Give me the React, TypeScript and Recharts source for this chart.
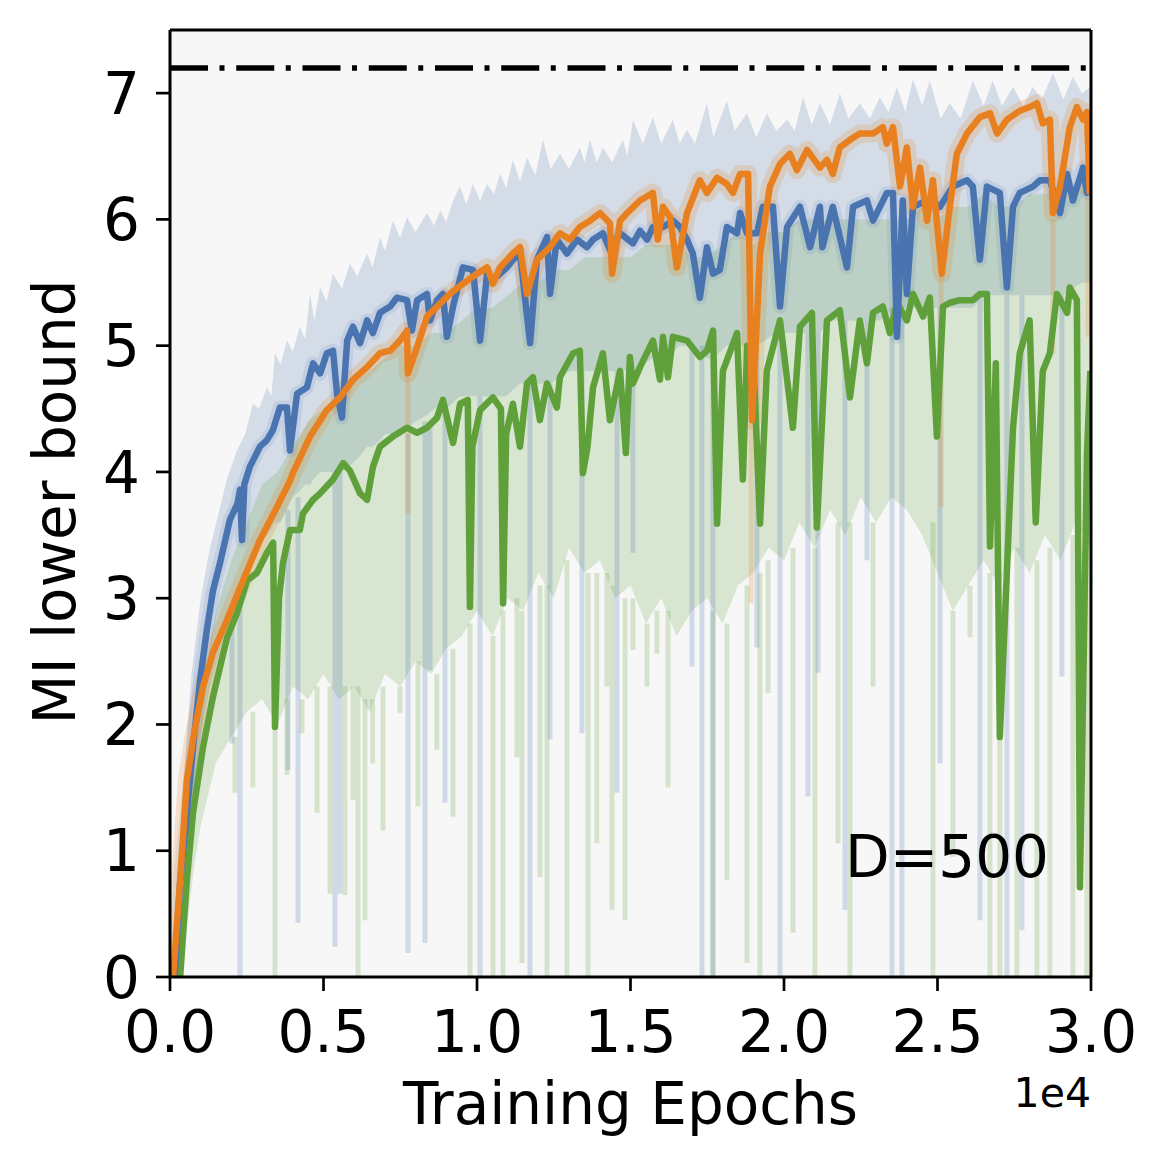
import React from 'react';
import { ComposedChart, Line, Area, XAxis, YAxis, CartesianGrid, ReferenceLine } from 'recharts';

// ---------- smoothed curves (epoch, MI) ----------
const blueEpochs = [150,330,550,750,980,1200,1400,1630,1950,2200,2280,2345,2420,2600,2930,3150,3350,3580,3810,3910,4140,4460,4660,4890,5110,5310,5440,5600,5770,5960,6190,6420,6610,6840,7170,7390,7720,7880,8050,8370,8470,8700,8890,9020,9220,9540,9870,10100,10330,10520,10980,11170,11400,11730,11950,12280,12380,12600,12930,13260,13580,13780,14100,14400,14550,14660,15080,15310,15540,15730,16060,16380,16610,16840,17030,17260,17490,17690,17910,18140,18470,18570,18790,19120,19310,19640,19870,20100,20520,20850,21170,21250,21590,22050,22250,22700,22900,23350,23550,23680,23870,24000,24200,24660,25080,25500,25960,26150,26380,26610,27030,27260,27460,27680,28110,28340,28660,28990,29220,29410,29740,29870,30000];
const blueMI = [0,0.75,1.3,1.82,2.35,2.75,3.06,3.28,3.62,3.75,3.86,3.46,3.9,4.04,4.2,4.25,4.33,4.51,4.51,4.17,4.62,4.67,4.86,4.78,4.94,4.96,4.62,4.43,5.04,5.15,5.02,5.2,5.1,5.26,5.31,5.38,5.36,5.12,5.36,5.41,5.2,5.36,5.41,5.07,5.31,5.62,5.6,5.04,5.57,5.52,5.62,5.68,5.73,5.02,5.68,5.86,5.41,5.84,5.73,5.84,5.78,5.84,5.89,5.72,5.85,5.89,5.81,5.91,5.84,5.94,5.94,5.99,5.94,5.84,5.73,5.38,5.78,5.57,5.6,5.94,5.89,6.05,5.89,5.89,6.1,6.1,5.31,5.94,6.1,5.78,6.1,5.78,6.1,5.62,6.1,6.15,5.99,6.21,6.21,5.07,6.15,5.41,6.1,6.15,6.1,6.26,6.31,6.26,5.68,6.26,6.21,5.46,6.1,6.21,6.26,6.31,6.31,6.05,6.36,6.15,6.41,6.21,6.35];

const orangeEpochs = [100,330,550,750,1075,1400,1860,2380,2930,3480,3910,4000,4560,5110,5540,5960,6420,6840,7170,7490,7720,7750,8050,8370,8700,9120,9540,10000,10330,10520,10750,11170,11400,11630,11950,12380,12700,13030,13350,13680,14010,14330,14400,14660,14890,15310,15730,15890,16060,16290,16510,16840,17260,17490,17820,18140,18340,18570,18830,18960,19220,19540,19870,20190,20420,20750,21170,21400,21590,21820,22150,22470,22900,23220,23350,23550,23780,24000,24200,24430,24660,24850,25140,25400,25630,25960,26380,26710,26940,27260,27680,28010,28240,28430,28660,28760,28990,29310,29540,29740,29870,29960];
const orangeMI = [0,0.77,1.56,1.88,2.3,2.57,2.83,3.14,3.46,3.72,3.93,3.99,4.28,4.49,4.59,4.73,4.83,4.94,4.96,5.04,5.12,4.78,4.99,5.23,5.31,5.41,5.49,5.57,5.62,5.49,5.62,5.73,5.78,5.41,5.68,5.78,5.89,5.84,5.94,5.99,6.05,5.97,5.57,5.99,6.05,6.15,6.21,5.84,6.1,6.02,5.62,6.05,6.31,6.21,6.33,6.28,6.21,6.36,6.36,4.41,5.73,6.26,6.44,6.52,6.39,6.55,6.41,6.47,6.36,6.57,6.63,6.68,6.68,6.73,6.6,6.73,6.26,6.57,6.1,6.41,5.99,6.31,5.57,6.1,6.52,6.68,6.81,6.84,6.68,6.79,6.86,6.89,6.92,6.76,6.79,6.05,6.26,6.73,6.89,6.79,6.85,6.2];

const greenEpochs = [330,550,750,1075,1400,1860,2180,2510,2830,3160,3360,3420,3550,3680,3910,4230,4330,4660,4890,5310,5640,5860,6190,6420,6610,6840,7260,7720,8050,8370,8700,8890,9220,9450,9700,9770,9850,10100,10520,10780,10850,10950,11170,11400,11630,11820,12050,12280,12600,12700,13130,13350,13450,13600,13780,14100,14330,14660,14850,14980,15080,15310,15730,15960,16060,16220,16380,16840,17260,17490,17690,17820,18010,18470,18660,18800,19000,19220,19440,19870,20290,20520,20910,21070,21400,21820,22150,22470,22700,22900,23220,23450,23680,24000,24200,24530,24750,24980,25180,25400,25730,26150,26380,26610,26710,26900,27030,27460,27680,28000,28200,28430,28660,28890,29220,29310,29540,29640,29870,29980];
const greenMI = [0,0.77,1.3,1.82,2.22,2.69,2.88,3.14,3.2,3.36,3.44,1.98,3.0,3.28,3.54,3.54,3.67,3.78,3.83,3.94,4.07,4.01,3.83,3.78,4.04,4.2,4.28,4.35,4.31,4.35,4.43,4.57,4.23,4.54,4.57,2.93,4.2,4.49,4.59,4.5,2.96,4.3,4.54,4.2,4.7,4.75,4.41,4.7,4.51,4.75,4.94,4.96,3.99,4.2,4.67,4.94,4.41,4.8,4.15,4.91,4.7,4.83,5.04,4.73,5.07,4.75,5.07,5.04,4.91,4.96,5.12,3.59,4.8,5.1,3.94,5.0,4.9,3.59,4.8,5.2,4.35,5.15,5.26,3.56,5.2,5.28,4.59,5.2,4.86,5.26,5.31,5.1,5.34,5.2,5.41,5.23,5.38,4.28,5.31,5.34,5.36,5.36,5.41,5.41,3.41,4.86,1.9,4.35,4.94,5.2,3.6,4.8,4.94,5.41,5.26,5.46,5.36,0.71,4.15,4.8];

// ---------- raw (unsmoothed) traces: dense bands ----------
const blueBandX = [150,400,700,1000,1300,1530,1850,2180,2450,2700,2900,3160,3300,3420,3600,3810,4000,4230,4400,4560,4700,4890,5100,5310,5600,5860,6100,6420,6600,6840,7000,7260,7500,7720,8000,8370,8600,8800,9000,9220,9445,9650,9870,10100,10330,10550,10750,10950,11170,11400,11630,11900,12150,12400,12700,13000,13350,13500,13680,13900,14100,14400,14750,14900,15080,15400,15730,16000,16380,16600,16840,17100,17490,17700,18140,18400,18790,19100,19440,19750,20100,20350,20620,20900,21170,21500,21820,22100,22470,22800,23120,23400,23680,23950,24200,24500,24750,25100,25400,25750,26150,26500,26800,27100,27460,27800,28100,28400,28760,29100,29410,29700,30000];
const blueBandLo = [0,0.45,1.3,1.9,2.3,2.5,2.8,3.0,3.2,3.35,3.45,3.5,3.55,3.6,3.6,3.7,3.8,3.85,3.9,3.9,3.95,4.0,4.0,4.0,4.0,4.05,4.1,4.2,4.2,4.25,4.3,4.3,4.3,4.35,4.4,4.45,4.5,4.5,4.5,4.55,4.6,4.6,4.6,4.6,4.6,4.6,4.6,4.6,4.65,4.7,4.7,4.7,4.7,4.7,4.75,4.8,4.8,4.8,4.8,4.8,4.8,4.8,4.8,4.8,4.8,4.85,4.9,4.9,4.95,5.0,5.0,5.0,4.9,4.9,5.0,5.0,5.0,5.0,5.05,5.1,5.1,5.1,5.1,5.1,5.1,5.2,5.2,5.2,5.2,5.2,5.2,5.25,5.3,5.3,5.3,5.3,5.3,5.3,5.3,5.3,5.3,5.4,5.4,5.4,5.4,5.4,5.4,5.4,5.4,5.4,5.45,5.5,5.5];
const blueBandHi = [0.3,1.4,2.4,3.0,3.4,3.62,3.94,4.17,4.3,4.54,4.5,4.67,4.6,4.94,4.85,5.04,4.95,5.15,5.05,5.41,5.2,5.46,5.35,5.57,5.45,5.65,5.55,5.73,5.62,5.86,5.75,5.99,5.85,6.02,5.9,6.05,5.95,6.07,5.98,6.15,6.26,6.12,6.28,6.15,6.28,6.2,6.36,6.25,6.47,6.3,6.49,6.35,6.63,6.4,6.52,6.4,6.57,6.45,6.63,6.45,6.57,6.45,6.63,6.5,6.79,6.6,6.81,6.6,6.79,6.6,6.71,6.6,6.92,6.65,6.94,6.7,6.84,6.65,6.84,6.7,6.79,6.7,6.97,6.75,6.92,6.75,7.0,6.8,6.92,6.8,6.97,6.85,7.05,6.85,7.11,6.9,7.1,6.8,6.92,6.8,7.1,6.9,7.1,6.9,7.05,6.9,7.05,6.95,7.16,6.95,7.13,7.0,7.05];

const greenBandX = [330,500,800,1000,1500,2000,2500,3000,3500,4000,4500,5000,5500,6000,6500,7000,7500,8000,8500,9000,9500,10000,10500,11000,11500,12000,12500,13000,13500,14000,14500,15000,15500,16000,16500,17000,17500,18000,18500,19000,19500,20000,20500,21000,21500,22000,22500,23000,23500,24000,24500,25000,25500,26000,26500,27000,27500,28000,28500,29000,29500,30000];
const greenBandLo = [0,0.3,0.9,1.2,1.7,1.9,2.1,2.2,2.0,2.3,2.2,2.4,2.2,2.3,2.1,2.4,2.3,2.5,2.4,2.6,2.7,2.9,2.7,3.0,2.9,3.2,3.0,3.4,3.2,3.3,3.0,3.1,2.8,3.0,2.7,2.9,3.0,2.8,3.1,3.2,3.4,3.3,3.6,3.4,3.7,3.5,3.8,3.6,3.8,3.7,3.5,3.2,2.9,3.1,3.3,3.1,3.4,3.2,3.5,3.3,3.6,3.4];
const greenBandHi = [0,0.9,1.7,2.2,2.9,3.3,3.6,3.9,4.0,4.2,4.4,4.5,4.6,4.7,4.8,4.9,5.0,5.0,5.1,5.1,5.2,5.3,5.3,5.4,5.5,5.5,5.6,5.6,5.7,5.7,5.7,5.7,5.8,5.8,5.8,5.7,5.7,5.8,5.9,5.8,5.9,5.9,6.0,6.0,6.0,6.0,6.0,6.0,6.0,6.0,6.1,6.0,6.1,6.1,6.2,6.1,6.1,6.2,6.2,6.2,6.3,6.3];

// ---------- raw traces: downward spikes (epoch, top, bottom) ----------
const blueSpikeX = [2019,2280,3843,4169,5374,5537,7752,8305,8469,8957,10097,11726,12377,13420,14559,15080,17001,17327,17685,19118,19867,20780,21106,21985,22702,23516,23842,25080,26382,27261,27749,29052];
const blueSpikeTop = [2.9,3.0,3.7,3.8,4.0,4.0,4.3,4.4,4.4,4.5,4.6,4.7,4.7,4.8,4.8,4.8,5.0,5.0,4.9,5.0,5.1,5.1,5.1,5.2,5.2,5.3,5.3,5.3,5.4,5.4,5.4,5.4];
const blueSpikeBottom = [1.85,0,1.64,0.43,0.24,0.66,0.19,0.27,2.43,1.38,0,0,1.88,1.93,1.46,3.36,2.46,0,0,2.61,0,1.43,2.41,0.53,3.3,0,0,1.69,0.45,0,0.37,2.38];

const greenSpikeX = [2117,2700,3420,3810,4299,4790,5212,5700,5960,6123,6351,6600,6937,7491,8078,8690,9218,9771,10520,10846,11300,11465,12051,12279,12931,13615,13900,14230,14396,14820,15080,15536,15860,16220,17685,18141,18793,19216,19480,20291,21008,21757,22148,22900,24851,25503,26056,26708,27033,27586,28237,28661,29410,29867];
const greenSpikeTop = [1.9,2.1,2.0,2.2,2.2,2.3,2.3,2.3,2.3,2.3,2.2,2.2,2.3,2.3,2.5,2.4,2.6,2.8,2.7,2.9,3.0,2.9,3.1,3.1,3.3,3.2,3.2,3.2,3.1,3.0,3.0,2.8,2.9,2.9,2.9,2.8,3.1,3.2,3.3,3.4,3.4,3.6,3.6,3.6,3.6,2.9,3.1,3.2,3.2,3.4,3.3,3.4,3.5,3.5];
const greenSpikeBottom = [1.46,1.5,0,1.6,1.93,1.3,0.66,0.65,1.4,0,0.45,1.69,1.16,2.09,1.35,1.8,1.27,0,0,0,1.74,0.11,0.79,0,0,0,1.06,2.3,0.53,0.45,2.59,2.3,2.56,1.5,0,0.77,0.11,0,2.25,0.35,0,1.06,0,2.3,0,0.95,2.69,0,0,0,0,0,0,0];

const orangeSpikeX = [7750,18930,25120,28760,29900];
const orangeSpikeTop = [4.75,4.45,5.55,6.0,6.2];
const orangeSpikeBottom = [3.67,2.96,3.72,4.94,5.07];

const xTicks = [0,5000,10000,15000,20000,25000,30000];
const yTicks = [0,1,2,3,4,5,6,7];
const upperBound = 7.2;

const BLUE = '#4a74b0';
const ORANGE = '#e8801f';
const GREEN = '#60a03a';
const FONT = 'DejaVu Sans';

const toPoints = (xs: number[], ys: number[]) => xs.map((x, i) => ({ x, v: ys[i] }));
const toBand = (xs: number[], lo: number[], hi: number[]) => xs.map((x, i) => ({ x, band: [lo[i], hi[i]] }));
const toSpikes = (xs: number[], tops: number[], bottoms: number[]) =>
  xs.flatMap((x, i) => [{ x, v: tops[i] }, { x, v: bottoms[i] }, { x, v: null }]);

const bluePts = toPoints(blueEpochs, blueMI);
const orangePts = toPoints(orangeEpochs, orangeMI);
const greenPts = toPoints(greenEpochs, greenMI);
const blueBand = toBand(blueBandX, blueBandLo, blueBandHi);
const greenBand = toBand(greenBandX, greenBandLo, greenBandHi);
const blueSpikes = toSpikes(blueSpikeX, blueSpikeTop, blueSpikeBottom);
const greenSpikes = toSpikes(greenSpikeX, greenSpikeTop, greenSpikeBottom);
const orangeSpikes = toSpikes(orangeSpikeX, orangeSpikeTop, orangeSpikeBottom);

const tickStyle = { fontSize: 58, fill: '#000', fontFamily: FONT };

export default function App() {
  return (
    <div style={{ position: 'absolute', left: 0, top: 0, width: 1168, height: 1166, background: '#fff' }}>
      <ComposedChart width={1168} height={1166} margin={{ top: 30, right: 77, bottom: 129, left: 70 }}>
        <CartesianGrid fill="#f7f7f7" horizontal={false} vertical={false} />
        <XAxis
          type="number"
          dataKey="x"
          domain={[0, 30000]}
          ticks={xTicks}
          interval={0}
          allowDataOverflow
          height={60}
          tickSize={14}
          tickMargin={20}
          tick={tickStyle}
          tickFormatter={(v: number) => (v / 10000).toFixed(1)}
          axisLine={{ stroke: '#000', strokeWidth: 3 }}
          tickLine={{ stroke: '#000', strokeWidth: 2.7 }}
        />
        <YAxis
          type="number"
          domain={[0, 7.5]}
          ticks={yTicks}
          interval={0}
          allowDataOverflow
          width={100}
          tickSize={14}
          tickMargin={16}
          tick={tickStyle}
          axisLine={{ stroke: '#000', strokeWidth: 3 }}
          tickLine={{ stroke: '#000', strokeWidth: 2.7 }}
        />
        <Area data={blueBand} dataKey="band" type="linear" stroke="none" fill={BLUE} fillOpacity={0.2} isAnimationActive={false} dot={false} activeDot={false} />
        <Line data={blueSpikes} dataKey="v" type="linear" stroke={BLUE} strokeOpacity={0.22} strokeWidth={5} dot={false} activeDot={false} connectNulls={false} isAnimationActive={false} />
        <Area data={greenBand} dataKey="band" type="linear" stroke="none" fill={GREEN} fillOpacity={0.2} isAnimationActive={false} dot={false} activeDot={false} />
        <Line data={greenSpikes} dataKey="v" type="linear" stroke={GREEN} strokeOpacity={0.22} strokeWidth={5} dot={false} activeDot={false} connectNulls={false} isAnimationActive={false} />
        <Line data={bluePts} dataKey="v" type="linear" stroke={BLUE} strokeOpacity={0.13} strokeWidth={14} strokeLinejoin="round" dot={false} activeDot={false} isAnimationActive={false} />
        <Line data={orangePts} dataKey="v" type="linear" stroke={ORANGE} strokeOpacity={0.2} strokeWidth={18} strokeLinejoin="round" dot={false} activeDot={false} isAnimationActive={false} />
        <Line data={orangeSpikes} dataKey="v" type="linear" stroke={ORANGE} strokeOpacity={0.22} strokeWidth={5} dot={false} activeDot={false} connectNulls={false} isAnimationActive={false} />
        <Line data={greenPts} dataKey="v" type="linear" stroke={GREEN} strokeWidth={6.5} strokeLinejoin="round" dot={false} activeDot={false} isAnimationActive={false} />
        <Line data={bluePts} dataKey="v" type="linear" stroke={BLUE} strokeWidth={6.5} strokeLinejoin="round" dot={false} activeDot={false} isAnimationActive={false} />
        <Line data={orangePts} dataKey="v" type="linear" stroke={ORANGE} strokeWidth={6.5} strokeLinejoin="round" dot={false} activeDot={false} isAnimationActive={false} />
        <ReferenceLine y={upperBound} stroke="#000" strokeWidth={5.5} strokeDasharray="38 11.5 5 11.75" />
        <ReferenceLine y={7.5} stroke="#000" strokeWidth={3} />
        <ReferenceLine x={30000} stroke="#000" strokeWidth={3} />
      </ComposedChart>
      <svg width={1168} height={1166} style={{ position: 'absolute', left: 0, top: 0, pointerEvents: 'none' }}>
        <text x={0} y={0} transform="translate(75,502) rotate(-90)" textAnchor="middle" fontFamily={FONT} fontSize={58} fill="#000">MI lower bound</text>
        <text x={630.5} y={1124} textAnchor="middle" fontFamily={FONT} fontSize={58} fill="#000">Training Epochs</text>
        <text x={1091} y={1107} textAnchor="end" fontFamily={FONT} fontSize={41} fill="#000">1e4</text>
        <text x={845} y={877} textAnchor="start" fontFamily={FONT} fontSize={58} fill="#000">D=500</text>
      </svg>
    </div>
  );
}
